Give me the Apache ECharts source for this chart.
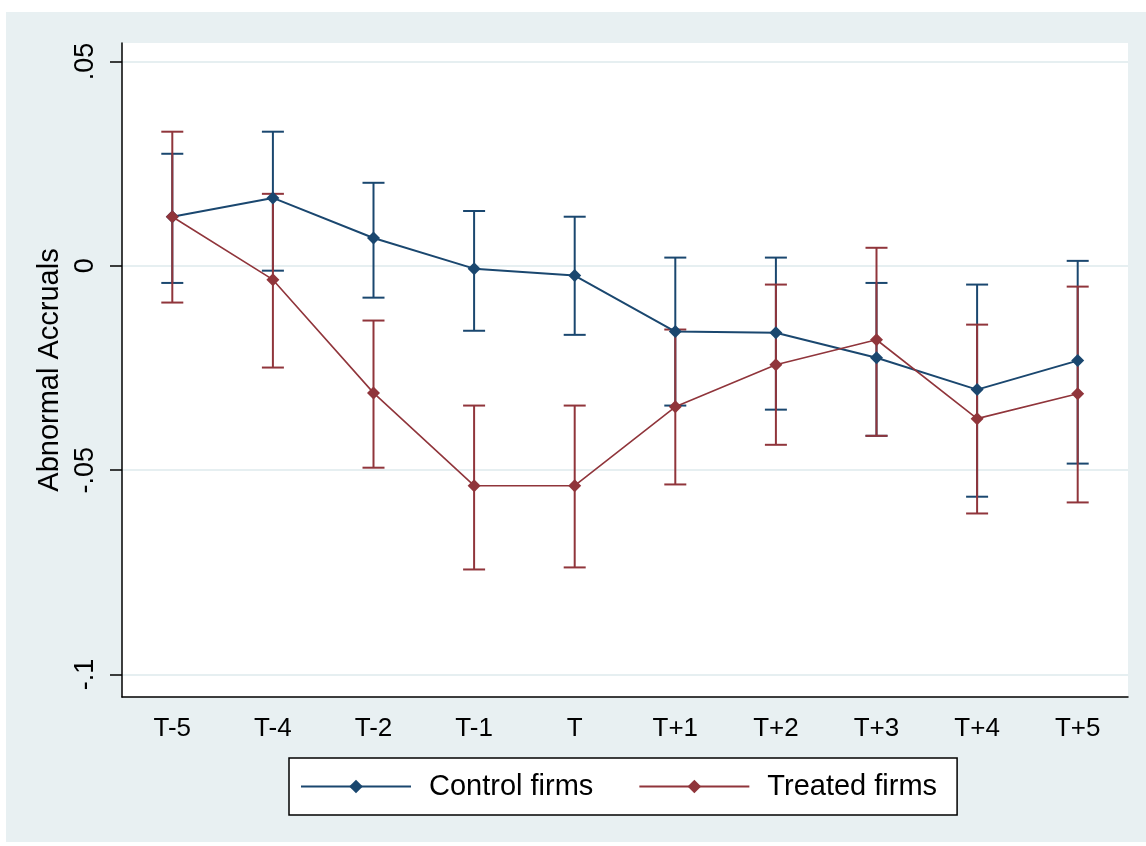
<!DOCTYPE html>
<html>
<head>
<meta charset="utf-8">
<script src="https://cdn.jsdelivr.net/npm/echarts@6/dist/echarts.min.js"></script>
<style>
html,body{margin:0;padding:0;background:#fff;width:1146px;height:846px;overflow:hidden;}
#bg{position:absolute;left:6px;top:12px;width:1140px;height:830px;background:#e8f0f2;}
#chart{position:absolute;left:0;top:0;width:1146px;height:846px;}
</style>
</head>
<body>
<div id="bg"></div>
<div id="chart"></div>
<script>
const categories = ['T-5','T-4','T-2','T-1','T','T+1','T+2','T+3','T+4','T+5'];
const yTicks = [-0.1, -0.05, 0, 0.05];
const controlMean  = [0.0120, 0.0166, 0.0068, -0.0007, -0.0024, -0.0161, -0.0164, -0.0225, -0.0303, -0.0232];
const controlUpper = [0.0274, 0.0328, 0.0203, 0.0134, 0.0120, 0.0020, 0.0020, -0.0042, -0.0046, 0.0012];
const controlLower = [-0.0042, -0.0012, -0.0078, -0.0159, -0.0169, -0.0342, -0.0352, -0.0416, -0.0565, -0.0484];
const treatedMean  = [0.0120, -0.0034, -0.0311, -0.0538, -0.0538, -0.0345, -0.0242, -0.0181, -0.0374, -0.0313];
const treatedUpper = [0.0328, 0.0176, -0.0134, -0.0342, -0.0342, -0.0156, -0.0046, 0.0044, -0.0144, -0.0051];
const treatedLower = [-0.0090, -0.0249, -0.0494, -0.0743, -0.0738, -0.0535, -0.0438, -0.0416, -0.0606, -0.0579];

const BLUE = '#1a476f';
const RED = '#90353b';
const FONT = '"Liberation Sans", Arial, sans-serif';

function ciData(lo, hi) {
  return categories.map((c, i) => [i, lo[i], hi[i]]);
}
function ciSeries(name, lo, hi, color) {
  return {
    type: 'custom',
    name: name + ' CI',
    data: ciData(lo, hi),
    silent: true,
    z: 2,
    renderItem: function (params, api) {
      const x = api.value(0);
      const lowP = api.coord([x, api.value(1)]);
      const highP = api.coord([x, api.value(2)]);
      const hw = 11;
      const st = { stroke: color, lineWidth: 2, fill: null };
      return {
        type: 'group',
        children: [
          { type: 'line', shape: { x1: lowP[0], y1: lowP[1], x2: highP[0], y2: highP[1] }, style: st },
          { type: 'line', shape: { x1: lowP[0] - hw, y1: lowP[1], x2: lowP[0] + hw, y2: lowP[1] }, style: st },
          { type: 'line', shape: { x1: highP[0] - hw, y1: highP[1], x2: highP[0] + hw, y2: highP[1] }, style: st }
        ]
      };
    }
  };
}
function fmt(v) {
  if (Math.abs(v) < 1e-9) return '0';
  let s = String(Math.round(v * 1000) / 1000);
  s = s.replace('0.', '.');
  return s;
}

const chart = echarts.init(document.getElementById('chart'), null, { renderer: 'canvas' });
chart.setOption({
  animation: false,
  backgroundColor: 'transparent',
  textStyle: { fontFamily: FONT },
  grid: {
    left: 122, right: 18, top: 43, bottom: 149,
    show: true, backgroundColor: '#ffffff', borderWidth: 0
  },
  legend: {
    left: 289, top: 758,
    padding: [14, 20, 14, 11],
    backgroundColor: '#ffffff',
    borderColor: '#000000', borderWidth: 1.5, borderRadius: 0,
    itemWidth: 110, itemHeight: 17, itemGap: 45,
    data: ['Control firms', 'Treated firms'],
    textStyle: { fontFamily: FONT, fontSize: 29, color: '#000', padding: [0, 0, 0, 13] }
  },
  xAxis: {
    type: 'category',
    data: categories,
    boundaryGap: true,
    axisLine: { onZero: false, lineStyle: { color: '#000', width: 1.5 } },
    axisTick: { alignWithLabel: true, length: 9, lineStyle: { color: '#000', width: 1.5 } },
    axisLabel: { fontFamily: FONT, fontSize: 26, color: '#000', margin: 19 },
    splitLine: { show: false }
  },
  yAxis: {
    type: 'value',
    min: -0.1055, max: 0.0545,
    name: 'Abnormal Accruals',
    nameLocation: 'middle',
    nameRotate: 90,
    nameGap: 48,
    nameTextStyle: { fontFamily: FONT, fontSize: 29, color: '#000' },
    axisLine: { show: true, onZero: false, lineStyle: { color: '#000', width: 1.5 } },
    axisTick: { show: true, length: 12, customValues: yTicks, lineStyle: { color: '#000', width: 1.5 } },
    axisLabel: { fontFamily: FONT, fontSize: 27, color: '#000', rotate: 90, margin: 23, customValues: yTicks, formatter: fmt },
    splitLine: { show: true, lineStyle: { color: '#e6eff1', width: 2 } }
  },
  series: [
    ciSeries('Control firms', controlLower, controlUpper, BLUE),
    {
      type: 'line', name: 'Control firms', data: controlMean,
      symbol: 'diamond', symbolSize: 13,
      lineStyle: { color: BLUE, width: 2 }, itemStyle: { color: BLUE },
      z: 3
    },
    ciSeries('Treated firms', treatedLower, treatedUpper, RED),
    {
      type: 'line', name: 'Treated firms', data: treatedMean,
      symbol: 'diamond', symbolSize: 13,
      lineStyle: { color: RED, width: 1.6 }, itemStyle: { color: RED },
      z: 4
    }
  ]
});
</script>
</body>
</html>
